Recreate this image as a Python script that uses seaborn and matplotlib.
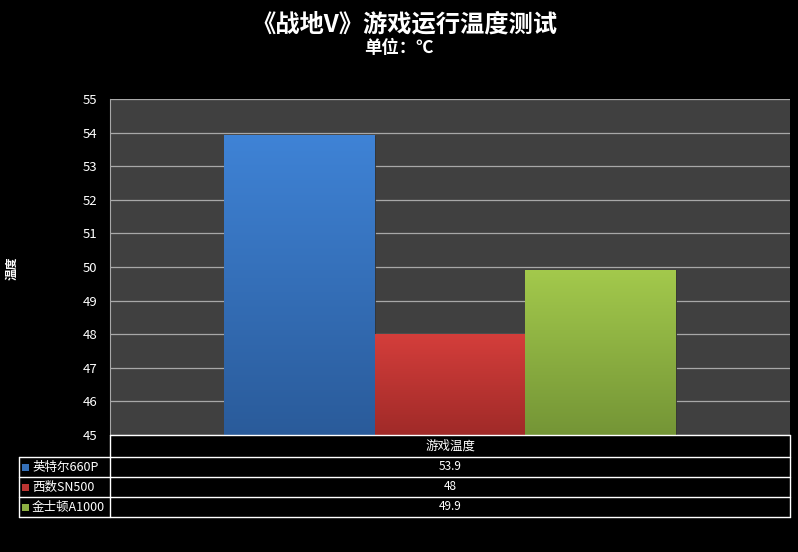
import numpy as np
import pandas as pd
import seaborn as sns
import matplotlib.pyplot as plt
from matplotlib.colors import LinearSegmentedColormap
from matplotlib.patches import Rectangle

# data
category = "游戏温度"
drives = ["英特尔660P", "西数SN500", "金士顿A1000"]
temps = [53.9, 48, 49.9]
value_labels = ["53.9", "48", "49.9"]
yticks = [45, 46, 47, 48, 49, 50, 51, 52, 53, 54, 55]

top_colors = ["#3f83d6", "#d43e3b", "#a3c94c"]
bottom_colors = ["#2a5b9a", "#a02a28", "#749536"]
mid_colors = ["#3570b8", "#bb3532", "#8db042"]

df = pd.DataFrame({"cat": [category] * 3, "drive": drives, "temp": temps})

sns.set_style("dark")
plt.rcParams['font.family'] = ['Noto Sans CJK SC', 'DejaVu Sans']

W, H = 798, 552
fig = plt.figure(figsize=(W / 100, H / 100), dpi=100, facecolor="black")
ax = fig.add_axes([110 / W, 1 - 435 / H, 680 / W, 336 / H])
ax.set_facecolor("#404040")

sns.barplot(data=df, x="cat", y="temp", hue="drive", hue_order=drives,
            palette=mid_colors, width=0.666, gap=0, legend=False,
            edgecolor="#303030", linewidth=0.6, ax=ax, zorder=3)

# vertical gradient fill on each bar
for i, cont in enumerate(ax.containers):
    cmap = LinearSegmentedColormap.from_list("g%d" % i, [bottom_colors[i], top_colors[i]])
    for bar in cont:
        x0, w, h = bar.get_x(), bar.get_width(), bar.get_height()
        grad = np.linspace(0, 1, 256).reshape(-1, 1)
        ax.imshow(grad, extent=[x0, x0 + w, 45, h], origin="lower", cmap=cmap,
                  aspect="auto", zorder=3.5, interpolation="bilinear")

ax.set_xlim(-0.5, 0.5)
ax.set_ylim(45, 55)
ax.set_yticks(yticks)
ax.set_yticklabels([str(t) for t in yticks], color="white", fontsize=9.5)
ax.set_xticks([])
ax.set_xlabel("")
ax.set_ylabel("")
ax.grid(axis="y", color="#a8a8a8", linewidth=0.9, zorder=1)
ax.grid(axis="x", visible=False)
ax.tick_params(axis="y", length=0, pad=9)
for s in ["top", "right", "bottom"]:
    ax.spines[s].set_visible(False)
ax.spines["left"].set_color("#a8a8a8")
ax.spines["left"].set_visible(True)

# overlay in pixel coordinates for titles and data table
ov = fig.add_axes([0, 0, 1, 1])
ov.set_xlim(0, W)
ov.set_ylim(H, 0)
ov.axis("off")
ov.patch.set_alpha(0)

ov.text(404, 24, "《战地V》游戏运行温度测试", color="white", fontsize=17.5,
        fontweight="bold", ha="center", va="center")
ov.text(399, 48, "单位：℃", color="white", fontsize=12.5,
        fontweight="bold", ha="center", va="center")
ov.text(12, 268, "温度", color="white", fontsize=8.5, fontweight="bold",
        rotation=90, ha="center", va="center")

lc = "white"
lw = 1.0
# header row
ov.plot([110, 790], [435, 435], color=lc, lw=lw)
ov.plot([110, 790], [457, 457], color=lc, lw=lw)
ov.plot([19, 110], [457, 457], color=lc, lw=lw)
ov.plot([19, 790], [477, 477], color=lc, lw=lw)
ov.plot([19, 790], [497, 497], color=lc, lw=lw)
ov.plot([19, 790], [517, 517], color=lc, lw=lw)
ov.plot([110, 110], [435, 517], color=lc, lw=lw)
ov.plot([790, 790], [435, 517], color=lc, lw=lw)
ov.plot([19, 19], [457, 517], color=lc, lw=lw)
ov.text(450, 446, category, color="white", fontsize=9, ha="center", va="center")

row_y = [467, 487, 507]
for i, name in enumerate(drives):
    ov.add_patch(Rectangle((22, row_y[i] - 3.5), 7, 7, facecolor=mid_colors[i],
                           edgecolor="none"))
    ov.text(32, row_y[i], name, color="white", fontsize=9, ha="left", va="center")
    ov.text(450, row_y[i], value_labels[i], color="white", fontsize=8.5,
            ha="center", va="center")

fig.savefig("out.png", dpi=100, facecolor="black")
